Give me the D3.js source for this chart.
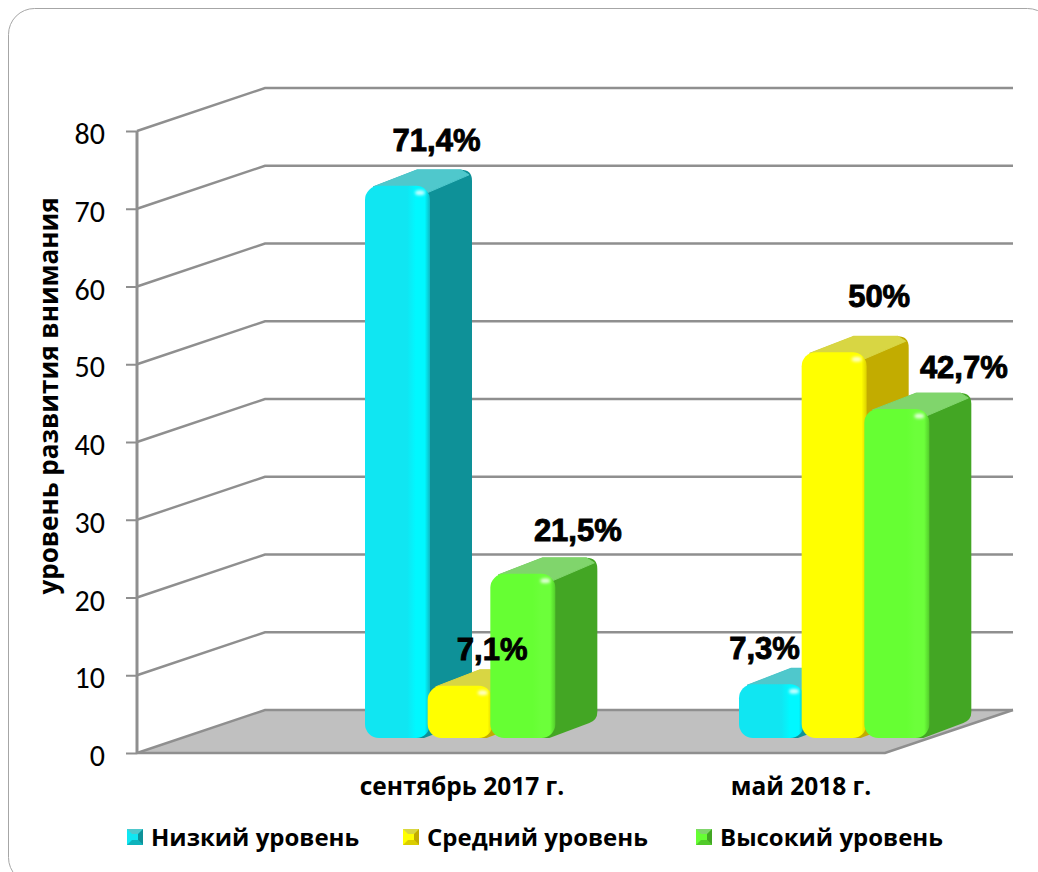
<!DOCTYPE html>
<html>
<head>
<meta charset="utf-8">
<script src="https://cdn.jsdelivr.net/npm/d3@7"></script>
<style>
  html, body { margin: 0; padding: 0; background: #fff; overflow: hidden; }
  svg { display: block; }
</style>
</head>
<body>
<script>
var categories = ["сентябрь 2017 г.", "май 2018 г."];
var seriesNames = ["Низкий уровень", "Средний уровень", "Высокий уровень"];
var lowValues = [71.4, 7.3];
var midValues = [7.1, 50];
var highValues = [21.5, 42.7];
var valueLabels = [["71,4%", "7,3%"], ["7,1%", "50%"], ["21,5%", "42,7%"]];
var yTicks = [0, 10, 20, 30, 40, 50, 60, 70, 80];
var yTitle = "уровень развития внимания";

var width = 1038, height = 872;
var seriesValues = [lowValues, midValues, highValues];

// colours per series: front, bright band, side, top
var colors = [
  { front: "#10e6f2", bright: "#00f8ff", side: "#0e9198", top: "#4fc8cc" },
  { front: "#ffff00", bright: "#ffff00", side: "#c2ac00", top: "#d8d643" },
  { front: "#66ff33", bright: "#6cff3a", side: "#43a624", top: "#80d56c" }
];

// 3d offset of back wall, and of the bars inside the floor
var depth = { x: 128, y: -43 };
var barBase = 15, barTopDrop = 3, barDepth = { x: 42, y: -16 };

var svg = d3.select("body").append("svg")
  .attr("width", width)
  .attr("height", height);

var defs = svg.append("defs");

colors.forEach(function (c, i) {
  var grad = defs.append("linearGradient")
    .attr("id", "front" + i);
  grad.append("stop").attr("offset", "0%").attr("stop-color", c.front);
  grad.append("stop").attr("offset", "65%").attr("stop-color", c.front);
  grad.append("stop").attr("offset", "78%").attr("stop-color", c.bright);
  grad.append("stop").attr("offset", "92%").attr("stop-color", c.bright);
  grad.append("stop").attr("offset", "100%").attr("stop-color", d3.interpolateRgb(c.front, c.side)(0.55));
});
defs.append("filter").attr("id", "soft")
  .attr("x", "-50%").attr("y", "-50%").attr("width", "200%").attr("height", "200%")
  .append("feGaussianBlur").attr("stdDeviation", 1.5);

// page frame
svg.append("rect")
  .attr("x", 8.5).attr("y", 8.5)
  .attr("width", 1045).attr("height", 875)
  .attr("rx", 26)
  .attr("fill", "#fff")
  .attr("stroke", "#a6a6a6")
  .attr("stroke-width", 1);

var y = d3.scaleLinear().domain([0, 80]).range([753, 131]);

// bars sit on shifted bands, the labels under them do not follow
var x0 = d3.scaleBand().domain(categories).range([365, 1113]);
var x1 = d3.scaleBand().domain(d3.range(3)).range([0, 188]);
var xLabel = d3.scalePoint().domain(categories).range([462, 801]);

// floor
var floorPts = [[137, y(0)], [137 + depth.x, y(0) + depth.y], [885 + depth.x, y(0) + depth.y], [885, y(0)]];
svg.append("polygon")
  .attr("points", floorPts.join(" "))
  .attr("fill", "#c0c0c0");

// grid lines on side and back wall
var grid = svg.append("g").attr("fill", "none").attr("stroke", "#8f8f8f").attr("stroke-width", 2.4);
yTicks.forEach(function (t) {
  grid.append("path")
    .attr("d", d3.line()([
      [137, y(t)],
      [137 + depth.x, y(t) + depth.y],
      [885 + depth.x, y(t) + depth.y]
    ]));
});
// front and right floor edge
grid.append("path").attr("d", d3.line()([[137, y(0)], [885, y(0)], [885 + depth.x, y(0) + depth.y]]));

// axis
var yAxis = d3.axisLeft(y).tickValues(yTicks).tickSize(11).tickPadding(21);
var axisG = svg.append("g").attr("transform", "translate(137,0)").call(yAxis);
axisG.selectAll("path, line").attr("stroke", "#8f8f8f").attr("stroke-width", 2);
axisG.select(".domain").attr("stroke-width", 3).attr("d", "M0," + y(80) + "V" + y(0));
axisG.selectAll("text")
  .attr("font-family", "Carlito, Lato, 'Open Sans', sans-serif")
  .attr("font-size", 30)
  .attr("dy", "0.42em")
  .attr("fill", "#000");

var bars = [];
categories.forEach(function (cat, ci) {
  seriesValues.forEach(function (vals, si) {
    bars.push({ cat: cat, ci: ci, si: si, value: vals[ci], label: valueLabels[si][ci] });
  });
});

// left to right, each next bar covers the previous side face
var barW = 65, r = 14;
bars.forEach(function (d) {
  var c = colors[d.si];
  var left = x0(d.cat) + x1(d.si);
  var right = left + barW;
  var bottom = y(0) - barBase;
  var top = y(d.value) - barBase + barTopDrop;
  var dx = barDepth.x, dy = barDepth.y;
  var g = svg.append("g");

  // whole silhouette of side and top, rounded at the far corners
  var p = d3.path();
  p.moveTo(left + 8, top + 1);
  p.lineTo(left + dx + 10, top + dy);
  p.lineTo(right + dx - 11, top + dy);
  p.quadraticCurveTo(right + dx, top + dy, right + dx, top + dy + 11);
  p.lineTo(right + dx, bottom + dy - 10);
  p.quadraticCurveTo(right + dx, bottom + dy - 2, right + dx - 8, bottom + dy + 1);
  p.lineTo(right - 6, bottom);
  p.lineTo(left + r, bottom);
  p.closePath();
  g.append("path").attr("d", p.toString()).attr("fill", c.side);

  var topFace = [
    [left + 8, top + 1],
    [left + dx + 10, top + dy],
    [right + dx - 11, top + dy],
    [right + dx - 3, top + dy + 5],
    [right - 3, top + 7]
  ];
  g.append("polygon").attr("points", topFace.join(" ")).attr("fill", c.top)
    .attr("stroke", c.top).attr("stroke-linejoin", "round");

  // front
  g.append("rect")
    .attr("x", left).attr("y", top)
    .attr("width", barW).attr("height", bottom - top)
    .attr("rx", r)
    .attr("fill", "url(#front" + d.si + ")");

  // small highlight at the corner
  g.append("ellipse")
    .attr("cx", right - 10).attr("cy", top + 7)
    .attr("rx", 5).attr("ry", 2.5)
    .attr("fill", "#fff").attr("opacity", 0.8)
    .attr("filter", "url(#soft)");
});

// value labels are placed by hand in the original, nudge from bar front top
var labelNudge = [
  [39, -43], [32, -34], [55, -41],
  [-7, -33], [45, -53], [67, -39]
];
bars.forEach(function (d, i) {
  var left = x0(d.cat) + x1(d.si);
  svg.append("text")
    .attr("x", left + barW / 2 + labelNudge[i][0])
    .attr("y", y(d.value) - barBase + labelNudge[i][1])
    .attr("dy", "0.35em")
    .attr("text-anchor", "middle")
    .attr("font-family", "'Liberation Sans', Arial, sans-serif")
    .attr("font-weight", "bold")
    .attr("font-size", 31)
    .attr("stroke", "#000")
    .attr("stroke-width", 0.9)
    .attr("fill", "#000")
    .text(d.label);
});

// category labels
svg.selectAll(".cat").data(categories).enter().append("text")
  .attr("class", "cat")
  .attr("x", function (d) { return xLabel(d); })
  .attr("y", 786)
  .attr("dy", "0.35em")
  .attr("text-anchor", "middle")
  .attr("font-family", "'Open Sans', sans-serif")
  .attr("font-weight", "bold")
  .attr("font-size", 24.5)
  .text(function (d) { return d; });

// y title
svg.append("text")
  .attr("transform", "translate(49,396) rotate(-90)")
  .attr("dy", "0.35em")
  .attr("text-anchor", "middle")
  .attr("font-family", "'Open Sans', sans-serif")
  .attr("font-weight", "bold")
  .attr("font-size", 26)
  .text(yTitle);

// legend
var legendX = d3.scaleOrdinal().domain(seriesNames).range([127, 403, 696]);
var legend = svg.selectAll(".legend").data(seriesNames).enter().append("g")
  .attr("class", "legend")
  .attr("transform", function (d) { return "translate(" + legendX(d) + ",829)"; });

legend.each(function (d, i) {
  var g = d3.select(this), c = colors[i], s = 16, m = 5;
  g.append("rect").attr("width", s).attr("height", s).attr("fill", c.front);
  g.append("polygon").attr("points", [[0, 0], [s, 0], [s - m, m], [m, m]].join(" ")).attr("fill", c.top);
  g.append("polygon").attr("points", [[s, 0], [s, s], [s - m, s - m], [s - m, m]].join(" ")).attr("fill", c.side);
  g.append("polygon").attr("points", [[0, s], [s, s], [s - m, s - m], [m, s - m]].join(" ")).attr("fill", c.side).attr("opacity", 0.6);
});
legend.append("text")
  .attr("x", 24)
  .attr("y", 9)
  .attr("dy", "0.35em")
  .attr("font-family", "'Open Sans', sans-serif")
  .attr("font-weight", "bold")
  .attr("font-size", 24)
  .text(function (d) { return d; });
</script>
</body>
</html>
